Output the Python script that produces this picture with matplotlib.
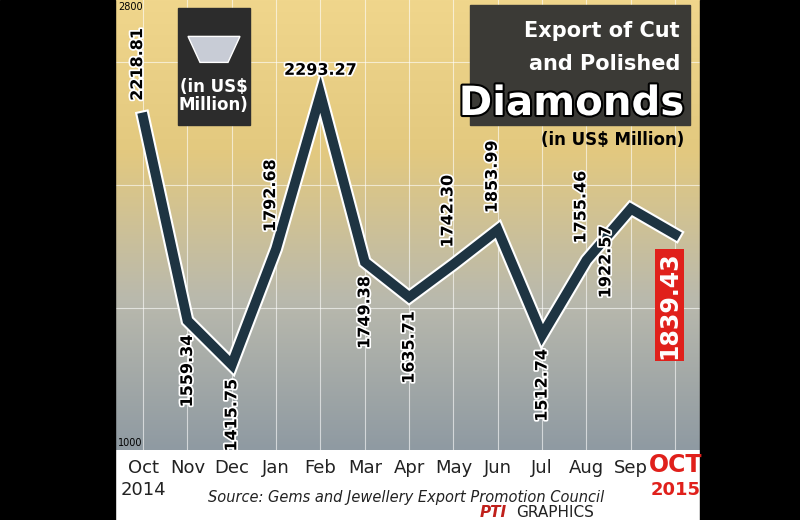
import matplotlib.pyplot as plt
import matplotlib.patheffects as pe
import numpy as np
from matplotlib.colors import LinearSegmentedColormap

months = ['Oct', 'Nov', 'Dec', 'Jan', 'Feb', 'Mar', 'Apr', 'May', 'Jun', 'Jul', 'Aug', 'Sep', 'OCT']
values = [2218.81, 1559.34, 1415.75, 1792.68, 2293.27, 1749.38, 1635.71, 1742.30,
          1853.99, 1512.74, 1755.46, 1922.57, 1839.43]
labels = ['2218.81', '1559.34', '1415.75', '1792.68', '2293.27', '1749.38', '1635.71',
          '1742.30', '1853.99', '1512.74', '1755.46', '1922.57', '1839.43']
# where each value label sits
places = ['up', 'down', 'down', 'up', 'h', 'down', 'down', 'up', 'up', 'down', 'up', 'downleft', 'red']

NARROW = ['Liberation Sans Narrow', 'DejaVu Sans']

fig = plt.figure(figsize=(8, 5.2), dpi=100)
fig.patch.set_facecolor('white')
# black side bars
fig.add_artist(plt.Rectangle((0, 0), 0.144, 1, transform=fig.transFigure, color='black'))
fig.add_artist(plt.Rectangle((0.875, 0), 0.125, 1, transform=fig.transFigure, color='black'))

ax = fig.add_axes([0.144, 0.135, 0.731, 0.865])
x = np.arange(len(values))
ax.set_xlim(-0.63, 12.56)
ax.set_ylim(1140, 2600)

# background gradient (gold at top to grey-blue at bottom)
grad = np.linspace(0, 1, 256).reshape(-1, 1)
cmap = LinearSegmentedColormap.from_list('bg', ['#8f9aa2', '#b9b9ad', '#e3c97f', '#f0d68c'])
ax.imshow(grad, extent=[-0.63, 12.56, 1140, 2600], aspect='auto', cmap=cmap, origin='lower', zorder=0)

for xi in x:
    ax.axvline(xi, color='white', lw=0.8, alpha=0.6, zorder=1)
for yv in [1600, 2000, 2400]:
    ax.axhline(yv, color='white', lw=0.8, alpha=0.6, zorder=1)

ax.plot(x, values, color='#1e3442', lw=7, solid_joinstyle='miter', zorder=3,
        path_effects=[pe.Stroke(linewidth=10, foreground='white'), pe.Normal()])

outline = [pe.withStroke(linewidth=2.5, foreground='white')]
for xi, v, lab, p in zip(x, values, labels, places):
    kw = dict(fontsize=11.5, fontweight='bold', color='black', rotation=90, zorder=5,
              family=NARROW, path_effects=outline, textcoords='offset points')
    if p == 'up':
        ax.annotate(lab, (xi, v), xytext=(-4, 12), ha='center', va='bottom', **kw)
    elif p == 'down':
        ax.annotate(lab, (xi, v), xytext=(0, -10), ha='center', va='top', **kw)
    elif p == 'downleft':
        ax.annotate(lab, (xi, v), xytext=(-18, -12), ha='center', va='top', **kw)
    elif p == 'h':
        kw['rotation'] = 0
        ax.annotate(lab, (xi, v), xytext=(0, 12), ha='center', va='bottom', **kw)
    else:
        ax.annotate(lab, (xi, v), xytext=(-4, -12), ha='center', va='top', fontsize=17,
                    fontweight='bold', color='white', rotation=90, textcoords='offset points',
                    family=NARROW, zorder=5,
                    bbox=dict(boxstyle='square,pad=0.1', fc='#e0201b', ec='none'))

ax.set_xticks([])
ax.set_yticks([])
for s in ax.spines.values():
    s.set_visible(False)

ax.text(0.005, 0.995, '2800', transform=ax.transAxes, fontsize=7, va='top')
ax.text(0.005, 0.005, '1000', transform=ax.transAxes, fontsize=7, va='bottom')

# month labels
for xi, m in zip(x, months):
    xf = 0.144 + (xi + 0.63) / 13.19 * 0.731
    if m == 'OCT':
        fig.text(xf, 0.105, m, ha='center', va='center', fontsize=17, fontweight='bold',
                 color='#e0201b', family=NARROW)
        fig.text(xf, 0.058, '2015', ha='center', va='center', fontsize=13, fontweight='bold',
                 color='#e0201b', family=NARROW)
    else:
        fig.text(xf, 0.1, m, ha='center', va='center', fontsize=13, color='#222222',
                 family=NARROW)
fig.text(0.179, 0.058, '2014', ha='center', va='center', fontsize=13, color='#222222',
         family=NARROW)
fig.text(0.26, 0.044, 'Source: Gems and Jewellery Export Promotion Council', fontsize=10.5,
         style='italic', color='#222222', family=NARROW, va='center')
fig.text(0.6, 0.015, 'PTI', fontsize=11, fontweight='bold', style='italic', color='#c0201b', va='center')
fig.text(0.645, 0.015, 'GRAPHICS', fontsize=11, color='#222222', va='center', family=NARROW)

# title box
fig.add_artist(plt.Rectangle((0.588, 0.76), 0.275, 0.23, transform=fig.transFigure,
                             color='#3b3a36', zorder=6))
fig.text(0.85, 0.94, 'Export of Cut', ha='right', va='center', fontsize=15, color='white',
         fontweight='bold', family=NARROW, zorder=7)
fig.text(0.85, 0.877, 'and Polished', ha='right', va='center', fontsize=15, color='white',
         fontweight='bold', family=NARROW, zorder=7)
fig.text(0.855, 0.8, 'Diamonds', ha='right', va='center', fontsize=29, color='white',
         fontweight='bold', family=NARROW, zorder=7,
         path_effects=[pe.withStroke(linewidth=3, foreground='black')])
fig.text(0.855, 0.73, '(in US$ Million)', ha='right', va='center', fontsize=12, color='black',
         fontweight='bold', family=NARROW, zorder=7)

# unit box at left
fig.add_artist(plt.Rectangle((0.222, 0.76), 0.09, 0.225, transform=fig.transFigure,
                             color='#2c2c2c', zorder=6))
fig.add_artist(plt.Polygon([[0.235, 0.93], [0.3, 0.93], [0.285, 0.88], [0.25, 0.88]],
                           closed=True, transform=fig.transFigure, fc='#c8ccd6', ec='white', zorder=7))
fig.text(0.267, 0.815, '(in US$\nMillion)', ha='center', va='center', fontsize=12, color='white',
         fontweight='bold', family=NARROW, zorder=7, linespacing=1.0)

fig.savefig('out.png', dpi=100)
